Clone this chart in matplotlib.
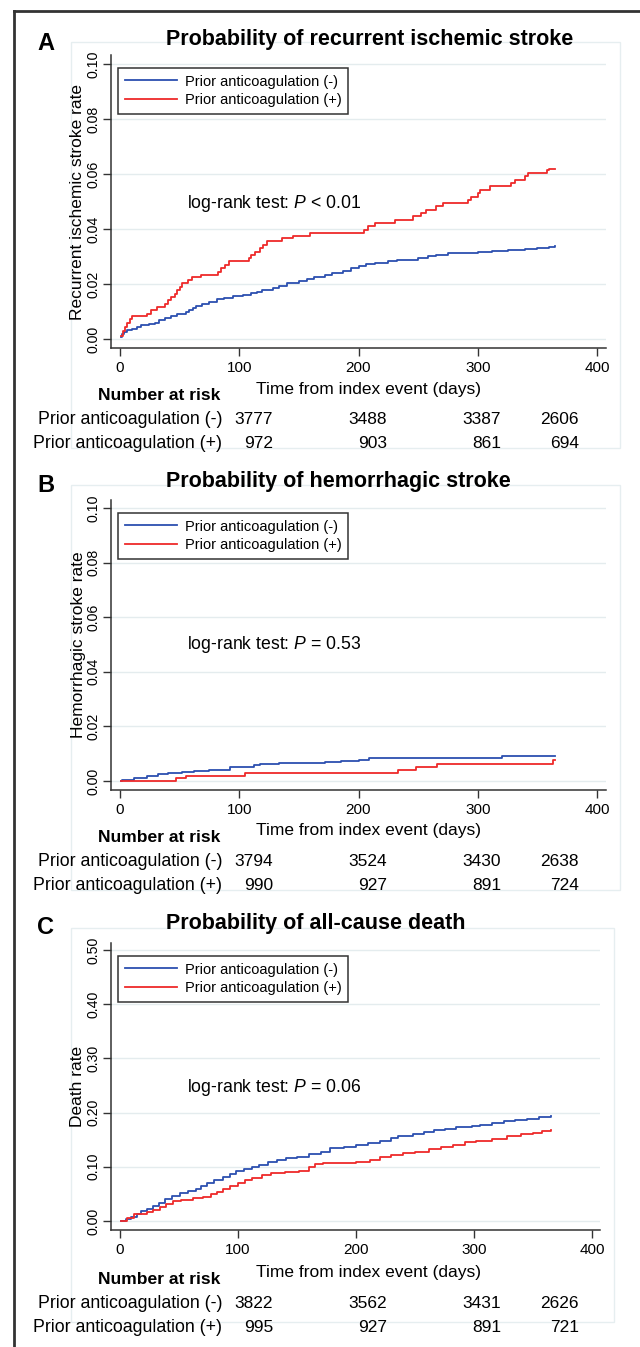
"""Kaplan-Meier style cumulative incidence curves, three stacked panels
(recurrent ischemic stroke, hemorrhagic stroke, all-cause death) with a
number-at-risk table under each panel.

Output: out.png (640 x 1347 px)
"""
import matplotlib

matplotlib.use("Agg")
import matplotlib.pyplot as plt
from matplotlib.lines import Line2D
from matplotlib.patches import Rectangle

W, H, DPI = 640, 1347, 100
BLUE = "#2c4fb0"
RED = "#ee2a2a"
INK = "#333333"
GRID = "#e4ecee"

plt.rcParams["font.family"] = ["Liberation Sans", "DejaVu Sans"]
plt.rcParams["mathtext.fontset"] = "custom"
plt.rcParams["mathtext.rm"] = "Liberation Sans"
plt.rcParams["mathtext.it"] = "Liberation Sans:italic"

GROUPS = ["Prior anticoagulation (-)", "Prior anticoagulation (+)"]
X_TICKS = [0, 100, 200, 300, 400]

# --- Panel A: recurrent ischemic stroke -------------------------------------
a_neg_days = [1, 2, 3, 6, 10, 14, 18, 24, 29, 33, 38, 43, 48, 55, 58, 61, 64, 69,
              75, 81, 87, 95, 103, 110, 115, 119, 128, 133, 140, 150, 157, 163,
              172, 178, 187, 194, 200, 206, 214, 225, 232, 250, 258, 265, 275,
              285, 300, 312, 325, 340, 350, 360, 365]
a_neg_rate = [0.0007, 0.0018, 0.0026, 0.0031, 0.0037, 0.0043, 0.0050, 0.0055,
              0.0060, 0.0068, 0.0075, 0.0082, 0.0090, 0.0097, 0.0104, 0.0112,
              0.0119, 0.0127, 0.0134, 0.0145, 0.0150, 0.0155, 0.0160, 0.0166,
              0.0172, 0.0178, 0.0186, 0.0194, 0.0203, 0.0210, 0.0219, 0.0226,
              0.0233, 0.0240, 0.0247, 0.0257, 0.0266, 0.0273, 0.0278, 0.0283,
              0.0289, 0.0294, 0.0302, 0.0307, 0.0311, 0.0314, 0.0317, 0.0320,
              0.0323, 0.0327, 0.0330, 0.0336, 0.0337]
a_pos_days = [1, 2.5, 4, 6, 8, 10, 23, 26, 31, 38, 40, 43, 46, 48, 50, 52, 57, 60,
              68, 82, 85, 88, 91, 108, 110, 113, 117, 120, 123, 136, 145, 159,
              205, 208, 214, 231, 246, 252, 257, 265, 271, 292, 294, 300, 302,
              310, 328, 331, 340, 342, 358, 360, 365]
a_pos_rate = [0.0010, 0.0030, 0.0045, 0.0060, 0.0072, 0.0082, 0.0092, 0.0105,
              0.0117, 0.0129, 0.0141, 0.0153, 0.0165, 0.0180, 0.0190, 0.0202,
              0.0214, 0.0226, 0.0233, 0.0245, 0.0257, 0.0270, 0.0282, 0.0294,
              0.0306, 0.0318, 0.0330, 0.0343, 0.0355, 0.0367, 0.0373, 0.0386,
              0.0398, 0.0410, 0.0422, 0.0434, 0.0446, 0.0458, 0.0470, 0.0482,
              0.0494, 0.0506, 0.0518, 0.0530, 0.0543, 0.0555, 0.0567, 0.0579,
              0.0591, 0.0603, 0.0615, 0.0620, 0.0620]
a_risk_neg = [3777, 3488, 3387, 2606]
a_risk_pos = [972, 903, 861, 694]

# --- Panel B: hemorrhagic stroke --------------------------------------------
b_neg_days = [1, 2, 12, 23, 32, 40, 52, 62, 75, 92, 112, 117, 133, 172, 185,
              200, 209, 296, 320, 365]
b_neg_rate = [0.0, 0.0004, 0.0010, 0.0018, 0.0026, 0.0030, 0.0034, 0.0038,
              0.0042, 0.0050, 0.0058, 0.0064, 0.0067, 0.0071, 0.0074, 0.0077,
              0.0083, 0.0086, 0.0090, 0.0090]
b_pos_days = [1, 47, 55, 105, 233, 248, 266, 363, 365]
b_pos_rate = [0.0, 0.0010, 0.0020, 0.0030, 0.0040, 0.0052, 0.0064, 0.0078, 0.0078]
b_risk_neg = [3794, 3524, 3430, 2638]
b_risk_pos = [990, 927, 891, 724]

# --- Panel C: all-cause death -----------------------------------------------
c_neg_days = [1, 5, 9, 14, 18, 23, 28, 33, 38, 44, 51, 58, 64, 69, 74, 80, 87,
              93, 98, 105, 112, 118, 125, 133, 141, 150, 160, 170, 178, 190,
              200, 210, 220, 230, 236, 248, 258, 266, 275, 285, 298, 305, 315,
              325, 335, 345, 355, 365]
c_neg_rate = [0.0, 0.004, 0.008, 0.013, 0.019, 0.023, 0.028, 0.034, 0.041,
              0.046, 0.051, 0.055, 0.059, 0.064, 0.070, 0.075, 0.081, 0.087,
              0.092, 0.096, 0.099, 0.103, 0.109, 0.113, 0.116, 0.119, 0.124,
              0.128, 0.134, 0.137, 0.140, 0.144, 0.148, 0.153, 0.157, 0.160,
              0.164, 0.168, 0.170, 0.173, 0.175, 0.178, 0.181, 0.184, 0.187,
              0.189, 0.192, 0.194]
c_pos_days = [1, 6, 12, 23, 28, 34, 39, 45, 52, 62, 70, 77, 82, 87, 93, 100,
              106, 112, 120, 128, 140, 152, 160, 165, 172, 200, 212, 220, 230,
              240, 250, 262, 272, 282, 292, 302, 315, 328, 340, 350, 358, 365]
c_pos_rate = [0.0, 0.005, 0.013, 0.016, 0.021, 0.026, 0.032, 0.036, 0.039,
              0.042, 0.045, 0.049, 0.054, 0.059, 0.064, 0.070, 0.075, 0.079,
              0.084, 0.088, 0.090, 0.093, 0.100, 0.105, 0.107, 0.109, 0.113,
              0.118, 0.121, 0.125, 0.128, 0.133, 0.137, 0.141, 0.145, 0.148,
              0.152, 0.156, 0.160, 0.163, 0.166, 0.168]
c_risk_neg = [3822, 3562, 3431, 2626]
c_risk_pos = [995, 927, 891, 721]


def fx(x):
    return x / W


def fy(y):
    return 1 - y / H


def lims(p_lo, p_hi, v0, p0, v1, p1):
    """Axis limits so that value v0 sits at pixel p0 and v1 at pixel p1."""
    k = (v1 - v0) / (p1 - p0)
    return v0 + (p_lo - p0) * k, v0 + (p_hi - p0) * k


def panel(fig, box, xmap, ymap, yticks, letter, title, ylabel, ptext,
          neg, pos, risk_neg, risk_pos, off):
    left, right, top, bottom = box
    ax = fig.add_axes([fx(left), fy(bottom), fx(right - left), (bottom - top) / H])
    ax.set_xlim(*lims(left, right, *xmap))
    ax.set_ylim(*lims(bottom, top, *ymap))

    for yv in yticks:
        ax.axhline(yv, color=GRID, lw=1.0, zorder=0)
    ax.plot(*neg, drawstyle="steps-post", color=BLUE, lw=1.3, zorder=3)
    ax.plot(*pos, drawstyle="steps-post", color=RED, lw=1.3, zorder=3)

    ax.set_xticks(X_TICKS)
    ax.set_yticks(yticks)
    ax.set_yticklabels([f"{v:.2f}" for v in yticks], rotation=90, va="center",
                       fontsize=10.2)
    ax.tick_params(axis="x", labelsize=11, length=6, width=1, color=INK, pad=3)
    ax.tick_params(axis="y", length=6, width=1, color=INK, pad=1.5)
    for s in ("top", "right"):
        ax.spines[s].set_visible(False)
    for s in ("left", "bottom"):
        ax.spines[s].set_color(INK)
        ax.spines[s].set_linewidth(1.1)
    ax.set_ylabel(ylabel, fontsize=12.5, va="center")
    ax.yaxis.set_label_coords((78 - left) / (right - left), 0.5)

    handles = [Line2D([], [], color=BLUE, lw=1.3), Line2D([], [], color=RED, lw=1.3)]
    leg = ax.legend(handles, GROUPS, loc="upper left", fontsize=10.5,
                    bbox_to_anchor=(fx(118), fy(top + 13)),
                    bbox_transform=fig.transFigure, borderaxespad=0,
                    fancybox=False, framealpha=1, edgecolor=INK,
                    handlelength=3.6, handletextpad=0.55, labelspacing=0.3,
                    borderpad=0.45)
    leg.get_frame().set_linewidth(1.1)

    # text positions, relative to the panel's top offset
    fig.text(fx(46), fy(off + 44), letter, fontsize=17, fontweight="bold",
             ha="center", va="center")
    fig.text(fx(166), fy(off + 40), title, fontsize=15.5, fontweight="bold",
             ha="left", va="center")
    fig.text(fx(187), fy(off + 203), ptext, fontsize=12.7, ha="left", va="center")
    fig.text(fx(368), fy(off + 389), "Time from index event (days)", fontsize=12.5,
             ha="center", va="center")
    fig.text(fx(98), fy(off + 396), "Number at risk", fontsize=12.6,
             fontweight="bold", ha="left", va="center")
    for row, (name, counts) in enumerate(zip(GROUPS, (risk_neg, risk_pos))):
        yy = fy(off + 419 + row * 24)
        fig.text(fx(222), yy, name, fontsize=12.8, ha="right", va="center")
        for xr, n in zip((273, 387, 501, 579), counts):
            fig.text(fx(xr), yy, str(n), fontsize=12.5, ha="right", va="center")
    return ax


def main():
    fig = plt.figure(figsize=(W / DPI, H / DPI), dpi=DPI)

    # faint Stata graph-region boxes
    for x0, x1, y0, y1 in ((71, 620, 42, 448), (71, 620, 485, 890), (71, 614, 928, 1322)):
        fig.add_artist(Rectangle((fx(x0), fy(y1)), fx(x1 - x0), (y1 - y0) / H,
                                 transform=fig.transFigure, fill=False,
                                 edgecolor="#e6eef0", lw=1, zorder=0))
    # outer frame, cut by the image edges
    fig.add_artist(Line2D([fx(14), fx(14)], [fy(11), 0], transform=fig.transFigure,
                          color=INK, lw=2))
    fig.add_artist(Line2D([fx(14), 1], [fy(11), fy(11)], transform=fig.transFigure,
                          color=INK, lw=2))

    ab_ticks = [0.0, 0.02, 0.04, 0.06, 0.08, 0.10]
    panel(fig, (111, 606, 55, 348), (0, 120, 400, 597), (0, 339, 0.1, 64), ab_ticks,
          "A", "Probability of recurrent ischemic stroke",
          "Recurrent ischemic stroke rate", "log-rank test: $P$ < 0.01",
          (a_neg_days, a_neg_rate), (a_pos_days, a_pos_rate),
          a_risk_neg, a_risk_pos, 0)
    panel(fig, (111, 606, 500, 790), (0, 120, 400, 597), (0, 781, 0.1, 508), ab_ticks,
          "B", "Probability of hemorrhagic stroke",
          "Hemorrhagic stroke rate", "log-rank test: $P$ = 0.53",
          (b_neg_days, b_neg_rate), (b_pos_days, b_pos_rate),
          b_risk_neg, b_risk_pos, 442)
    panel(fig, (111, 600, 943, 1230), (0, 120, 400, 592), (0, 1221, 0.5, 950),
          [0.0, 0.1, 0.2, 0.3, 0.4, 0.5],
          "C", "Probability of all-cause death",
          "Death rate", "log-rank test: $P$ = 0.06",
          (c_neg_days, c_neg_rate), (c_pos_days, c_pos_rate),
          c_risk_neg, c_risk_pos, 884)

    fig.savefig("out.png", dpi=DPI)
    plt.close(fig)


if __name__ == "__main__":
    main()
